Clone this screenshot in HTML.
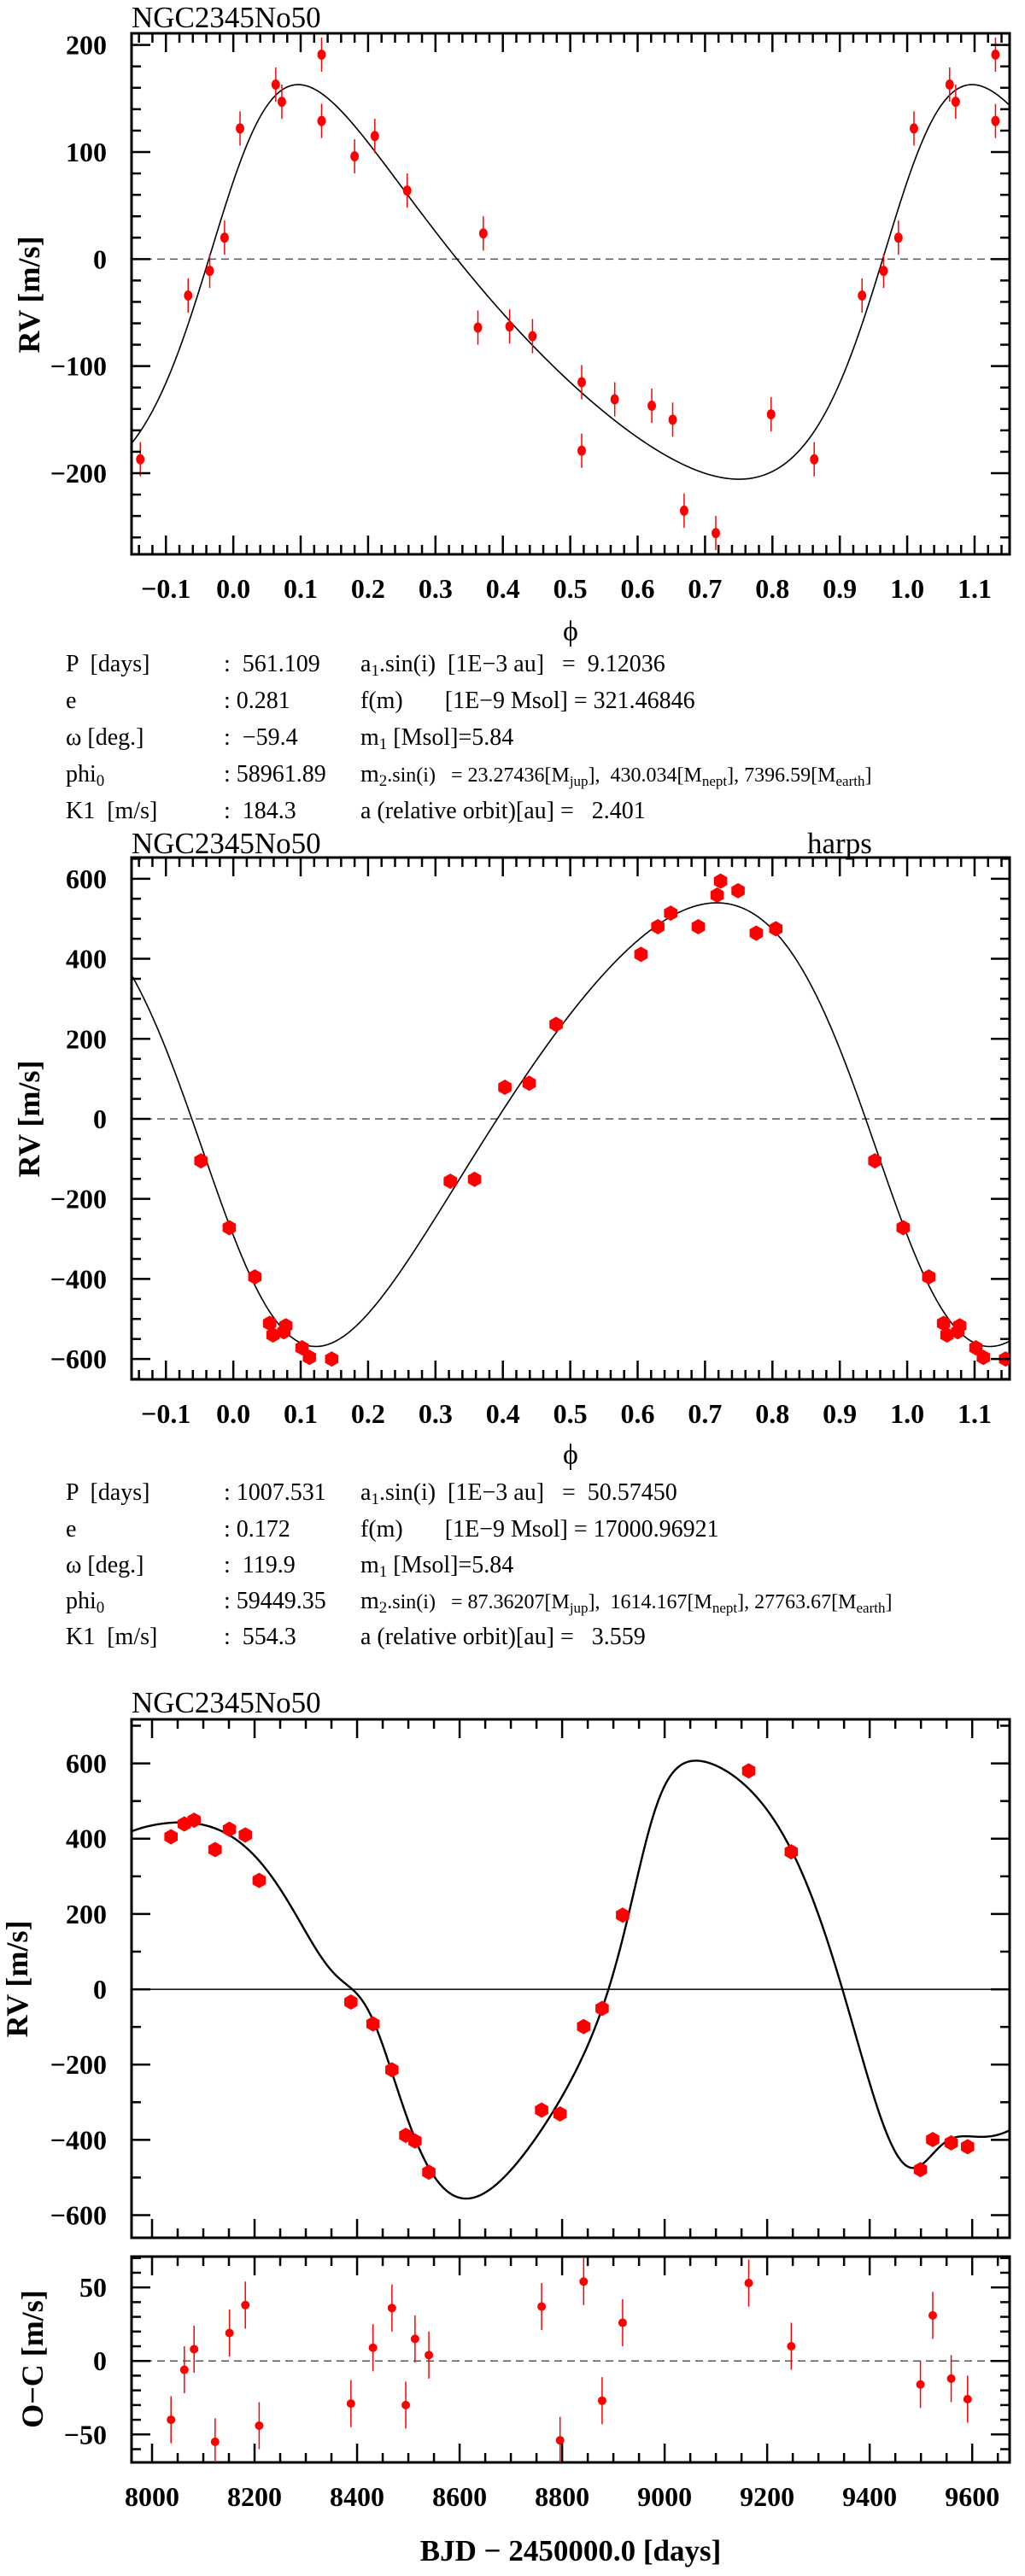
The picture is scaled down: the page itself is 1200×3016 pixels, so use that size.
<!DOCTYPE html>
<html><head><meta charset="utf-8"><title>NGC2345No50 RV</title>
<style>
html,body{margin:0;padding:0;background:#fff;}
svg{display:block;}
text{font-family:"Liberation Serif",serif;white-space:pre;}
.tk{font-weight:bold;font-size:32px;}
.tb{font-size:28px;}
</style></head>
<body>
<svg id="fig" width="1200" height="3016" viewBox="0 0 1200 3016" xmlns="http://www.w3.org/2000/svg" xml:space="preserve">
<text x="154" y="32" font-size="35">NGC2345No50</text>
<text transform="translate(46,345) rotate(-90)" text-anchor="middle" font-size="36" font-weight="bold">RV [m/s]</text>
<text x="668" y="750" text-anchor="middle" font-size="34">ϕ</text>

<g class="tb">
<text x="77" y="786">P  [days]</text><text x="262" y="786">:  561.109</text><text x="422" y="786">a<tspan font-size="19" dy="5">1</tspan><tspan dy="-5">.sin(i)  [1E−3 au]   =  9.12036</tspan></text>
<text x="77" y="829">e</text><text x="262" y="829">: 0.281</text><text x="422" y="829">f(m)       [1E−9 Msol] = 321.46846</text>
<text x="77" y="872">ω [deg.]</text><text x="262" y="872">:  −59.4</text><text x="422" y="872">m<tspan font-size="19" dy="5">1</tspan><tspan dy="-5"> [Msol]=5.84</tspan></text>
<text x="77" y="915">phi<tspan font-size="19" dy="5">0</tspan></text><text x="262" y="915">: 58961.89</text><text x="422" y="915">m<tspan font-size="19" dy="5">2</tspan><tspan dy="-5" font-size="24">.sin(i)   = 23.27436[M</tspan><tspan font-size="17" dy="5">jup</tspan><tspan dy="-5" font-size="24">],  430.034[M</tspan><tspan font-size="17" dy="5">nept</tspan><tspan dy="-5" font-size="24">], 7396.59[M</tspan><tspan font-size="17" dy="5">earth</tspan><tspan dy="-5" font-size="24">]</tspan></text>
<text x="77" y="958">K1  [m/s]</text><text x="262" y="958">:  184.3</text><text x="422" y="958">a (relative orbit)[au] =   2.401</text>
</g>

<text x="154" y="999" font-size="35">NGC2345No50</text>
<text x="945" y="999" font-size="35">harps</text>
<text transform="translate(46,1310) rotate(-90)" text-anchor="middle" font-size="36" font-weight="bold">RV [m/s]</text>
<text x="668" y="1714" text-anchor="middle" font-size="34">ϕ</text>

<g class="tb">
<text x="77" y="1756">P  [days]</text><text x="262" y="1756">: 1007.531</text><text x="422" y="1756">a<tspan font-size="19" dy="5">1</tspan><tspan dy="-5">.sin(i)  [1E−3 au]   =  50.57450</tspan></text>
<text x="77" y="1799">e</text><text x="262" y="1799">: 0.172</text><text x="422" y="1799">f(m)       [1E−9 Msol] = 17000.96921</text>
<text x="77" y="1841">ω [deg.]</text><text x="262" y="1841">:  119.9</text><text x="422" y="1841">m<tspan font-size="19" dy="5">1</tspan><tspan dy="-5"> [Msol]=5.84</tspan></text>
<text x="77" y="1883">phi<tspan font-size="19" dy="5">0</tspan></text><text x="262" y="1883">: 59449.35</text><text x="422" y="1883">m<tspan font-size="19" dy="5">2</tspan><tspan dy="-5" font-size="24">.sin(i)   = 87.36207[M</tspan><tspan font-size="17" dy="5">jup</tspan><tspan dy="-5" font-size="24">],  1614.167[M</tspan><tspan font-size="17" dy="5">nept</tspan><tspan dy="-5" font-size="24">], 27763.67[M</tspan><tspan font-size="17" dy="5">earth</tspan><tspan dy="-5" font-size="24">]</tspan></text>
<text x="77" y="1925">K1  [m/s]</text><text x="262" y="1925">:  554.3</text><text x="422" y="1925">a (relative orbit)[au] =   3.559</text>
</g>

<text x="154" y="2005" font-size="35">NGC2345No50</text>
<text transform="translate(32,2317) rotate(-90)" text-anchor="middle" font-size="36" font-weight="bold">RV [m/s]</text>
<text transform="translate(50,2762) rotate(-90)" text-anchor="middle" font-size="36" font-weight="bold">O−C [m/s]</text>
<text x="668" y="2998" text-anchor="middle" font-size="35" font-weight="bold">BJD − 2450000.0 [days]</text>
</svg>
<script>
// ---- data ----
const p1Phase = [0.862,0.933,0.965,0.987,0.010,0.063,0.072,0.131,0.131,0.180,0.210,0.258,0.363,0.371,0.410,0.444,0.517,0.517,0.566,0.621,0.652,0.669,0.716,0.798];
const p1RV    = [-187,-34,-11,20,122,163,147,191,129,96,115,64,-64,24,-63,-72,-115,-179,-131,-137,-150,-235,-256,-145];
const p1Err   = [16,16,16,16,16,16,16,16,16,16,16,16,16,16,16,16,16,16,16,16,16,16,16,16];
const p2Phase = [0.952,0.994,0.032,0.054,0.059,0.075,0.078,0.102,0.113,0.146,0.322,0.358,0.403,0.439,0.479,0.605,0.630,0.649,0.690,0.718,0.723,0.749,0.776,0.805];
const p2RV    = [-105,-272,-395,-511,-540,-532,-517,-572,-596,-600,-156,-151,79,89,236,411,480,514,480,559,594,570,464,475];
const p3Time  = [8037,8063,8082,8123,8151,8182,8209,8388,8431,8468,8495,8513,8540,8760,8796,8842,8878,8918,9164,9247,9499,9523,9559,9591];
const p3RV    = [405,439,449,371,425,410,289,-34,-92,-214,-388,-403,-486,-321,-331,-99,-51,197,580,365,-479,-399,-408,-418];
const ocValue = [-40,-6,8,-55,19,38,-44,-29,9,36,-30,15,4,37,-54,54,-27,26,53,10,-16,31,-12,-26];
const ocErr   = [16,16,16,16,16,16,16,16,16,16,16,16,16,16,16,16,16,16,16,16,16,16,16,16];
// orbit parameters: [P, e, omega(deg), K, Tperi]
const orbit1 = [561.109, 0.281, -59.4, 184.3, 8961.89];
const orbit2 = [1007.531, 0.172, 119.9, 554.3, 9449.35];
const phaseTicks = [-0.1,0.0,0.1,0.2,0.3,0.4,0.5,0.6,0.7,0.8,0.9,1.0,1.1];
const p1YTicks = [-200,-100,0,100,200];
const p2YTicks = [-600,-400,-200,0,200,400,600];
const p3YTicks = [-600,-400,-200,0,200,400,600];
const ocYTicks = [-50,0,50];
const timeTicks = [8000,8200,8400,8600,8800,9000,9200,9400,9600];

const NS='http://www.w3.org/2000/svg';
const svg=document.getElementById('fig');
function mk(tag,attrs,parent){const el=document.createElementNS(NS,tag);for(const k in attrs)el.setAttribute(k,attrs[k]);(parent||svg).appendChild(el);return el;}
function fmt(v,d){const s=Math.abs(v).toFixed(d);return (v<0?'−':'')+s;}
function solveE(M,e){let E=M;for(let i=0;i<40;i++){E=E-(E-e*Math.sin(E)-M)/(1-e*Math.cos(E));}return E;}
function kepRV(phase,o){const M=2*Math.PI*(phase-Math.floor(phase));const e=o[1];const E=solveE(M,e);
  const nu=2*Math.atan2(Math.sqrt(1+e)*Math.sin(E/2),Math.sqrt(1-e)*Math.cos(E/2));const w=o[2]*Math.PI/180;
  return o[3]*(Math.cos(nu+w)+e*Math.cos(w));}
function axes(L,R,T,B,xmin,xmax,ymin,ymax){return{L,R,T,B,sx:v=>L+(v-xmin)/(xmax-xmin)*(R-L),sy:v=>B-(v-ymin)/(ymax-ymin)*(B-T),xmin,xmax,ymin,ymax};}
function frame(a,name){
  const cp=mk('clipPath',{id:'clip-'+name});mk('rect',{x:a.L,y:a.T,width:a.R-a.L,height:a.B-a.T},cp);
  const r=mk('rect',{x:a.L,y:a.T,width:a.R-a.L,height:a.B-a.T,fill:'none',stroke:'#000','stroke-width':3});
  
  
}
function xTicks(a,name,step,major,labels,labelY,dec,doLabels){
  const g=mk('g',{stroke:'#000','stroke-width':2.5});
  
  
  const n0=Math.ceil(a.xmin/step-1e-9),n1=Math.floor(a.xmax/step+1e-9);
  for(let i=n0;i<=n1;i++){const v=i*step;const isMaj=Math.abs(v/major-Math.round(v/major))<1e-6;const len=isMaj?22:11;const x=a.sx(v);
    mk('line',{x1:x,y1:a.B,x2:x,y2:a.B-len},g);mk('line',{x1:x,y1:a.T,x2:x,y2:a.T+len},g);}
  if(doLabels){for(const v of labels){const t=mk('text',{x:a.sx(v),y:labelY,'text-anchor':'middle',class:'tk'});t.textContent=fmt(v,dec);
    
    }}
}
function yTicks(a,name,step,major,labels,dec){
  const g=mk('g',{stroke:'#000','stroke-width':2.5});
  
  
  const n0=Math.ceil(a.ymin/step-1e-9),n1=Math.floor(a.ymax/step+1e-9);
  for(let i=n0;i<=n1;i++){const v=i*step;const isMaj=Math.abs(v/major-Math.round(v/major))<1e-6;const len=isMaj?22:11;const y=a.sy(v);
    mk('line',{x1:a.L,y1:y,x2:a.L+len,y2:y},g);mk('line',{x1:a.R,y1:y,x2:a.R-len,y2:y},g);}
  for(const v of labels){const t=mk('text',{x:125,y:a.sy(v)+11,'text-anchor':'end',class:'tk'});t.textContent=fmt(v,dec);
    
    }
}
function zeroLine(a,name,dashed){const l=mk('line',{x1:a.L,y1:a.sy(0),x2:a.R,y2:a.sy(0),stroke:dashed?'#555':'#000','stroke-width':1.5,'stroke-dasharray':dashed?'9,6':'none'});
  
  }
function curve(a,name,fn,width){let d='';const N=900;for(let i=0;i<=N;i++){const x=a.xmin+(a.xmax-a.xmin)*i/N;const y=fn(x);d+=(i?'L':'M')+a.sx(x).toFixed(2)+','+a.sy(y).toFixed(2);}
  const p=mk('path',{d:d,fill:'none',stroke:'#000','stroke-width':width,'clip-path':'url(#clip-'+name+')'});
  
  }
function hexagon(cx,cy,r,parent){let pts='';for(let k=0;k<6;k++){const ang=Math.PI/6+k*Math.PI/3;pts+=(cx+r*Math.cos(ang)).toFixed(2)+','+(cy+r*Math.sin(ang)).toFixed(2)+' ';}
  return mk('polygon',{points:pts,fill:'#f00'},parent);}

// ---- Panel 1 ----
const a1=axes(154,1182,39,649,-0.151,1.152,-275.8,210.9);
frame(a1,'panel1');
zeroLine(a1,'panel1',true);
curve(a1,'panel1',ph=>kepRV(ph,orbit1)-47.7,1.6);
const g1=mk('g',{'clip-path':'url(#clip-panel1)'});


for(let i=0;i<p1Phase.length;i++){for(const sh of [-1,0,1]){const ph=p1Phase[i]+sh;if(ph<a1.xmin-0.01||ph>a1.xmax+0.01)continue;
  const x=a1.sx(ph),y=a1.sy(p1RV[i]);
  const eb=mk('line',{x1:x,y1:a1.sy(p1RV[i]-p1Err[i]),x2:x,y2:a1.sy(p1RV[i]+p1Err[i]),stroke:'#f00','stroke-width':1.5},g1);
  
  
  const c=mk('ellipse',{cx:x,cy:y,rx:5,ry:6,fill:'#f00'},g1);
  
  }}
xTicks(a1,'panel1',0.02,0.1,phaseTicks,700,1,true);
yTicks(a1,'panel1',20,100,p1YTicks,0);

// ---- Panel 2 ----
const a2=axes(154,1182,1004,1615,-0.151,1.152,-651,653);
frame(a2,'panel2');
zeroLine(a2,'panel2',true);
curve(a2,'panel2',ph=>kepRV(ph,orbit2)+33,1.6);
const g2=mk('g',{'clip-path':'url(#clip-panel2)'});


for(let i=0;i<p2Phase.length;i++){for(const sh of [-1,0,1]){const ph=p2Phase[i]+sh;if(ph<a2.xmin-0.01||ph>a2.xmax+0.01)continue;
  const h=hexagon(a2.sx(ph),a2.sy(p2RV[i]),9,g2);
  
  }}
xTicks(a2,'panel2',0.02,0.1,phaseTicks,1666,1,true);
yTicks(a2,'panel2',50,200,p2YTicks,0);

// ---- Panel 3 ----
const a3=axes(154,1182,2013,2620,7960,9673,-660,717);
frame(a3,'panel3');
zeroLine(a3,'panel3',false);
curve(a3,'panel3',t=>kepRV((t-orbit1[4])/orbit1[0],orbit1)+kepRV((t-orbit2[4])/orbit2[0],orbit2),2.4);
const g3=mk('g',{});


for(let i=0;i<p3Time.length;i++){const h=hexagon(a3.sx(p3Time[i]),a3.sy(p3RV[i]),9,g3);
  
  }
xTicks(a3,'panel3',50,200,timeTicks,0,0,false);
yTicks(a3,'panel3',100,200,p3YTicks,0);

// ---- O-C ----
const a4=axes(154,1182,2642,2883,7960,9673,-69,71);
frame(a4,'oc');
zeroLine(a4,'oc',true);
const g4=mk('g',{'clip-path':'url(#clip-oc)'});


for(let i=0;i<p3Time.length;i++){const x=a4.sx(p3Time[i]),y=a4.sy(ocValue[i]);
  const eb=mk('line',{x1:x,y1:a4.sy(ocValue[i]-ocErr[i]),x2:x,y2:a4.sy(ocValue[i]+ocErr[i]),stroke:'#f00','stroke-width':1.5},g4);
  
  
  const c=mk('circle',{cx:x,cy:y,r:5,fill:'#f00'},g4);
  
  }
xTicks(a4,'oc',50,200,timeTicks,2934,0,true);
yTicks(a4,'oc',10,50,ocYTicks,0);
</script>
</body></html>
